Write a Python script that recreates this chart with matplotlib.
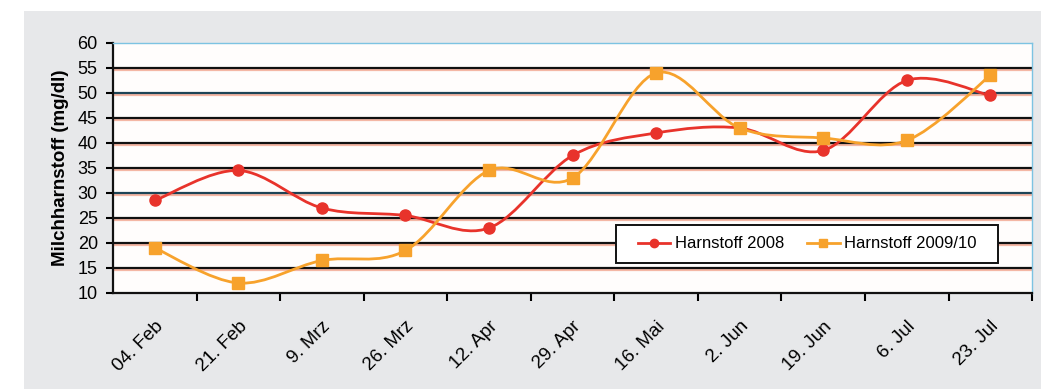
import matplotlib.pyplot as plt
import matplotlib.patheffects as pe
from matplotlib.path import Path
from matplotlib.patches import PathPatch, Rectangle
import numpy as np

plt.rcParams['font.family'] = ['Liberation Sans', 'DejaVu Sans']

dates = ['04. Feb', '21. Feb', '9. Mrz', '26. Mrz', '12. Apr', '29. Apr',
         '16. Mai', '2. Jun', '19. Jun', '6. Jul', '23. Jul']
harn_2008 = [28.5, 34.5, 27, 25.5, 23, 37.5, 42, 43, 38.5, 52.5, 49.5]
harn_2009 = [19, 12, 16.5, 18.5, 34.5, 33, 54, 43, 41, 40.5, 53.5]

red = '#e8332b'
orange = '#f7a22c'


def smooth_path(x, y):
    # Excel-style smoothed line: cubic Bezier segments with Catmull-Rom tangents
    pts = np.column_stack([x, y]).astype(float)
    n = len(pts)
    verts = [pts[0]]
    codes = [Path.MOVETO]
    for i in range(n - 1):
        p0 = pts[max(i - 1, 0)]
        p1 = pts[i]
        p2 = pts[i + 1]
        p3 = pts[min(i + 2, n - 1)]
        c1 = p1 + (p2 - p0) / 6.0
        c2 = p2 - (p3 - p1) / 6.0
        verts += [c1, c2, p2]
        codes += [Path.CURVE4] * 3
    return Path(verts, codes)


fig = plt.figure(figsize=(10.41, 3.89), dpi=100, facecolor='white')
fig.patches.append(Rectangle((0.023, 0), 0.977, 0.9717, transform=fig.transFigure,
                             facecolor='#e7e8ea', edgecolor='none', zorder=-10))
ax = fig.add_axes([0.1086, 0.2468, 0.8828, 0.6427])
ax.set_facecolor('#fffdfc')

x = np.arange(len(dates))
ax.set_xlim(-0.5, len(dates) - 0.5)
ax.set_ylim(10, 60)

# horizontal grid with a faint salmon shadow under each line
for v in range(15, 60, 5):
    col = '#1d4456' if v in (30, 50) else '#111111'
    ax.axhline(v, color=col, lw=1.6, zorder=1,
               path_effects=[pe.SimpleLineShadow(offset=(0, -1.3), shadow_color='#f09a80', alpha=0.7),
                             pe.Normal()])
ax.axhline(10, color='#f09a80', lw=1.0, zorder=1)

for vals, col, mk, lab in [(harn_2008, red, 'o', 'Harnstoff 2008'),
                           (harn_2009, orange, 's', 'Harnstoff 2009/10')]:
    ax.add_patch(PathPatch(smooth_path(x, vals), facecolor='none', edgecolor=col,
                           lw=2.0, zorder=3))
    ax.plot(x, vals, ls='none', marker=mk, ms=8, color=col, zorder=4)
    ax.plot([], [], color=col, lw=2.0, marker=mk, ms=6, label=lab)

# spines
for s in ('top', 'right'):
    ax.spines[s].set_color('#7cc3e2')
    ax.spines[s].set_linewidth(1.0)
for s in ('left', 'bottom'):
    ax.spines[s].set_color('#111111')
    ax.spines[s].set_linewidth(1.6)

ax.set_yticks(range(10, 61, 5))
ax.tick_params(axis='y', direction='out', length=5, width=1.5, labelsize=13, pad=6)
ax.set_xticks(np.arange(0.5, len(dates), 1.0))
ax.set_xticklabels([])
ax.tick_params(axis='x', which='major', direction='out', length=6, width=1.5)
ax.set_xticks(x, minor=True)
ax.set_xticklabels(dates, minor=True, rotation=45, ha='right', rotation_mode='anchor',
                   fontsize=13.5)
ax.tick_params(axis='x', which='minor', length=0, pad=18)

ax.set_ylabel('Milchharnstoff (mg/dl)', fontsize=13.5, fontweight='bold')
ax.yaxis.set_label_coords(-0.048, 0.5)

# legend box drawn separately so its padding can be set exactly
ax.add_patch(Rectangle((0.5473, 0.12), 0.4157, 0.152, transform=ax.transAxes,
                       facecolor='white', edgecolor='#111111', lw=1.4, zorder=5))
leg = ax.legend(loc='center', bbox_to_anchor=(0.7552, 0.196), ncol=2, fontsize=12,
                frameon=False, borderaxespad=0, handlelength=1.95, handletextpad=0.25,
                columnspacing=1.4, borderpad=0)
leg.set_zorder(6)

fig.savefig('out.png', dpi=100, facecolor=fig.get_facecolor())
